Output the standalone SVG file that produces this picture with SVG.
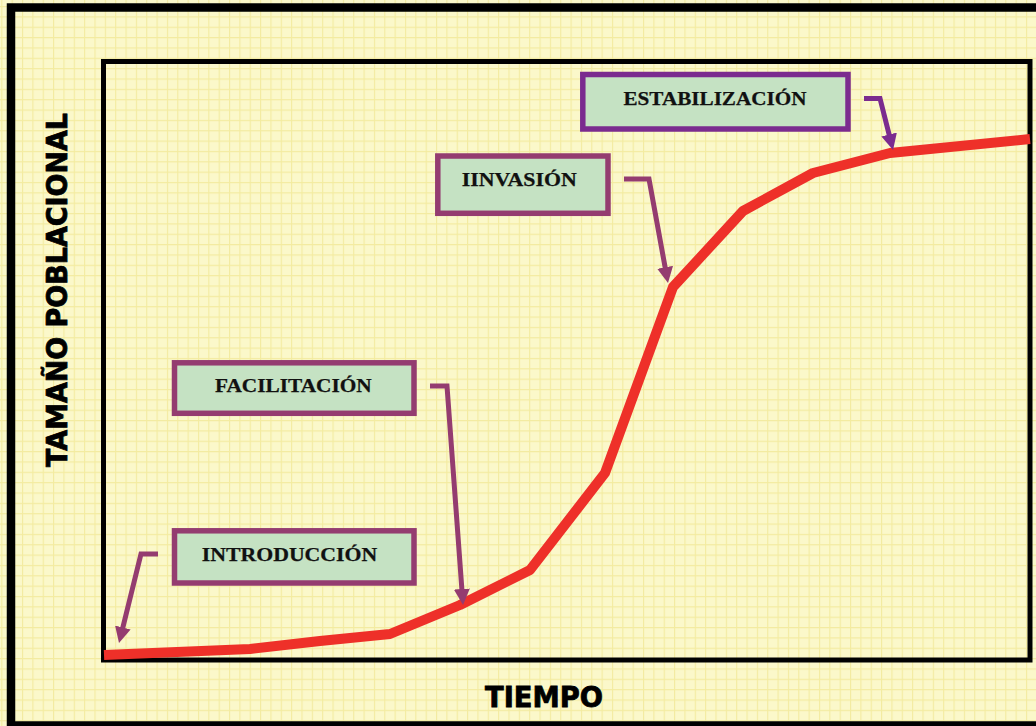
<svg xmlns="http://www.w3.org/2000/svg" width="1036" height="726" viewBox="0 0 1036 726">
  <defs>
    <style>
      .bg { fill: url(#grid); }
      .frame { fill: none; stroke: #000; }
      .box { fill: #C5E2C3; stroke-width: 5.5; }
      .boxA { stroke: #943C70; }
      .boxB { stroke: #7B2B8F; }
      .lbl { font-family: "Liberation Serif", "Times New Roman", serif; font-weight: bold; font-size: 19.5px; fill: #111; stroke: #111; stroke-width: 0.25; }
      .axis { font-family: "DejaVu Sans", Verdana, sans-serif; font-weight: bold; fill: #000; stroke: #000; stroke-width: 0.8; }
      .arrA { fill: none; stroke: #943C70; stroke-width: 5; stroke-linejoin: miter; }
      .arrB { fill: none; stroke: #7B2B8F; stroke-width: 5; stroke-linejoin: miter; }
      .curve { fill: none; stroke: #EE3029; stroke-width: 10; stroke-linejoin: round; }
    </style>
    <pattern id="grid" patternUnits="userSpaceOnUse" x="1.3" y="6" width="10.35" height="10.35">
      <rect width="10.35" height="10.35" fill="#FBF8CA"/>
      <path d="M0,0.5 H10.35 M0.5,0 V10.35" stroke="#F3EBA0" stroke-width="1.2" fill="none"/>
    </pattern>
    <marker id="headA" markerUnits="userSpaceOnUse" markerWidth="18" markerHeight="16" viewBox="0 0 18 16" refX="6" refY="8" orient="auto">
      <path d="M0,0 L16,8 L0,16 z" fill="#943C70"/>
    </marker>
    <marker id="headB" markerUnits="userSpaceOnUse" markerWidth="18" markerHeight="16" viewBox="0 0 18 16" refX="6" refY="8" orient="auto">
      <path d="M0,0 L16,8 L0,16 z" fill="#7B2B8F"/>
    </marker>
  </defs>

  <rect class="bg" x="0" y="0" width="1036" height="726"/>

  <g id="frames">
    <rect class="frame" x="11" y="7.5" width="1040" height="718" stroke-width="8.5"/>
    <rect class="frame" x="103.5" y="61.5" width="926.5" height="598.5" stroke-width="5"/>
  </g>

  <g id="axis-labels">
    <text class="axis" font-size="28" x="485" y="706.5" textLength="118" lengthAdjust="spacingAndGlyphs">TIEMPO</text>
    <text class="axis" font-size="27.5" transform="translate(67,467) rotate(-90)" x="0" y="0" textLength="354" lengthAdjust="spacingAndGlyphs">TAMAÑO POBLACIONAL</text>
  </g>

  <g id="curve">
    <polyline class="curve" points="104,655 250,649 320,641 390,634 460,605 530,570 605,473 673,287 743,211 813,173 890,153 1030,139"/>
  </g>

  <g id="connectors">
    <polyline class="arrA" points="158,554 141,554 121.4,633.3" marker-end="url(#headA)"/>
    <polyline class="arrA" points="430,386 447,386 462.3,595" marker-end="url(#headA)"/>
    <polyline class="arrA" points="624,179 649,179 666.2,273.2" marker-end="url(#headA)"/>
    <polyline class="arrB" points="864,98.5 880,98.5 890.6,140.3" marker-end="url(#headB)"/>
  </g>

  <g id="node-estabilizacion">
    <rect class="box boxB" x="582.8" y="74.5" width="265.2" height="54.5"/>
    <text class="lbl" x="623.5" y="105" textLength="183" lengthAdjust="spacingAndGlyphs">ESTABILIZACIÓN</text>
  </g>

  <g id="node-invasion">
    <rect class="box boxA" x="437.8" y="156" width="170.2" height="57.3"/>
    <text class="lbl" x="461.7" y="186" textLength="115" lengthAdjust="spacingAndGlyphs">IINVASIÓN</text>
  </g>

  <g id="node-facilitacion">
    <rect class="box boxA" x="174.5" y="362.8" width="239.5" height="50.5"/>
    <text class="lbl" x="215" y="391.7" textLength="156.7" lengthAdjust="spacingAndGlyphs">FACILITACIÓN</text>
  </g>

  <g id="node-introduccion">
    <rect class="box boxA" x="174.5" y="530.8" width="239.5" height="52.2"/>
    <text class="lbl" x="201.7" y="561" textLength="175.6" lengthAdjust="spacingAndGlyphs">INTRODUCCIÓN</text>
  </g>
</svg>
